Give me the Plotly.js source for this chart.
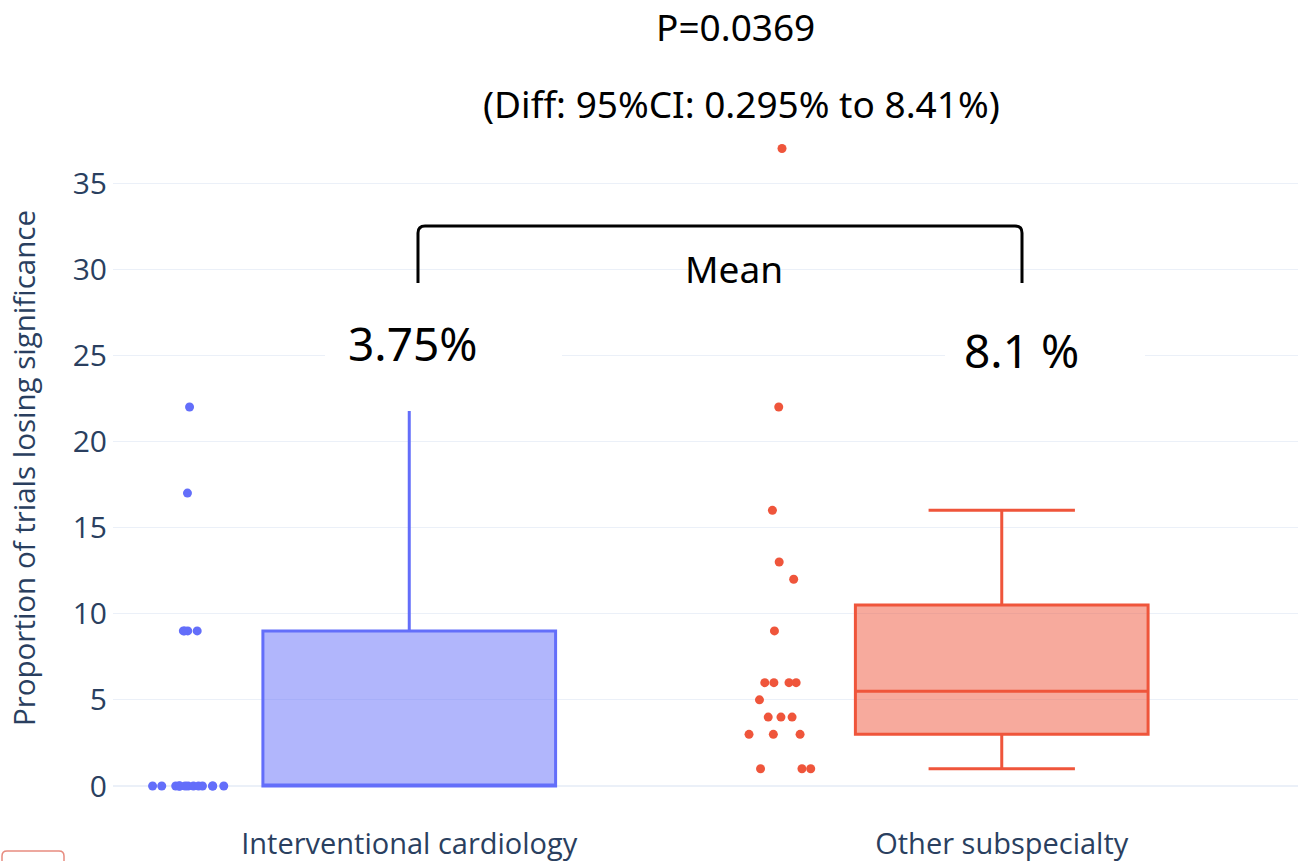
<!DOCTYPE html>
<html><head><meta charset="utf-8">
<script src="https://cdn.plot.ly/plotly-3.0.1.min.js"></script>
<style>html,body{margin:0;padding:0;background:#fff;}#chart{width:1298px;height:861px;}</style>
</head><body><div id="chart"></div>
<script>
// ---- data ----
const categories = ["Interventional cardiology", "Other subspecialty"];
const interventionalValues = [22, 17, 9, 9, 9, 9, 0, 0, 0, 0, 0, 0, 0, 0, 0, 0, 0, 0, 0, 0];
const otherValues = [37, 22, 16, 13, 12, 9, 6, 6, 6, 6, 5, 4, 4, 4, 3, 3, 3, 1, 1, 1];
const meanLabels = ["3.75%", "8.1 %"];
const pValueText = "P=0.0369";
const ciText = "(Diff: 95%CI: 0.295% to 8.41%)";
const bracketText = "Mean";
const yTitle = "Proportion of trials losing significance";
const yTickVals = [0, 5, 10, 15, 20, 25, 30, 35];

// ---- layout helpers (pixel -> paper) ----
const W = 1298, H = 861;
const M = {l: 113, r: 0, t: 130, b: 55};
const PW = W - M.l - M.r, PH = H - M.t - M.b;
const px = x => (x - M.l) / PW;
const py = y => (H - M.b - y) / PH;

const traces = [
  {
    type: "box", name: categories[0],
    x: interventionalValues.map(() => categories[0]), y: interventionalValues,
    boxpoints: "all", pointpos: -1.5, jitter: 0.3, width: 0.494,
    line: {color: "#636EFA", width: 3}, fillcolor: "rgba(99,110,250,0.5)",
    marker: {color: "#636EFA", size: 9}, showlegend: false
  },
  {
    type: "box", name: categories[1],
    x: otherValues.map(() => categories[1]), y: otherValues,
    boxpoints: "all", pointpos: -1.5, jitter: 0.3, width: 0.494,
    line: {color: "#EF553B", width: 3}, fillcolor: "rgba(239,85,59,0.5)",
    marker: {color: "#EF553B", size: 9}, showlegend: false
  }
];

function pathFromPx(cmds) {
  return cmds.map(c => c[0] + " " + c.slice(1).map((v, i) => (i % 2 === 0 ? px(v) : py(v)).toFixed(5)).join(",")).join(" ");
}
const bracketPath = pathFromPx([
  ["M", 418, 283], ["L", 418, 233], ["Q", 418, 226, 425, 226],
  ["L", 1015, 226], ["Q", 1022, 226, 1022, 233], ["L", 1022, 283]
]);

const shapes = [
  {type: "rect", xref: "paper", yref: "paper", layer: "above",
   x0: px(325), x1: px(562), y0: py(411), y1: py(300), fillcolor: "#ffffff", line: {width: 0}},
  {type: "rect", xref: "paper", yref: "paper", layer: "above",
   x0: px(945), x1: px(1145), y0: py(385), y1: py(320), fillcolor: "#ffffff", line: {width: 0}},
  {type: "path", xref: "paper", yref: "paper", layer: "above",
   path: bracketPath, line: {color: "#000000", width: 3}},
  {type: "path", xref: "paper", yref: "paper", layer: "above",
   path: pathFromPx([["M", 2, 880], ["L", 2, 856], ["Q", 2, 851, 7, 851], ["L", 59, 851], ["Q", 64, 851, 64, 856], ["L", 64, 880]]),
   line: {color: "rgba(225,110,95,0.8)", width: 1.5}}
];

const annFont = (s) => ({family: "Noto Sans, Open Sans, sans-serif", size: s, color: "#000000"});
const annotations = [
  {xref: "paper", yref: "paper", x: px(735), y: py(27), text: pValueText, showarrow: false, font: annFont(37), xanchor: "center", yanchor: "middle"},
  {xref: "paper", yref: "paper", x: px(741), y: py(103), text: ciText, showarrow: false, font: annFont(37), xanchor: "center", yanchor: "middle"},
  {xref: "paper", yref: "paper", x: px(734), y: py(268), text: bracketText, showarrow: false, font: annFont(37), xanchor: "center", yanchor: "middle"},
  {xref: "paper", yref: "paper", x: px(413), y: py(343), text: meanLabels[0], showarrow: false, font: annFont(46), xanchor: "center", yanchor: "middle"},
  {xref: "paper", yref: "paper", x: px(1021), y: py(350), text: meanLabels[1], showarrow: false, font: annFont(46), xanchor: "center", yanchor: "middle"}
];

const yMin = -(H - M.b - 786) / ((786 - 183) / 35);
const yMax = (786 - M.t) / ((786 - 183) / 35);

const layout = {
  width: W, height: H, margin: M,
  paper_bgcolor: "#ffffff", plot_bgcolor: "#ffffff",
  font: {family: "Open Sans, sans-serif", color: "#2a3f5f", size: 29},
  showlegend: false,
  xaxis: {type: "category", categoryarray: categories, range: [-0.5, 1.5],
          showgrid: false, zeroline: false, showline: false, ticks: "",
          ticklabelstandoff: 18,
          tickfont: {size: 29, color: "#2a3f5f"}},
  yaxis: {range: [yMin, yMax], tickvals: yTickVals, ticktext: yTickVals.map(String),
          showgrid: true, gridcolor: "#EBF0F8", gridwidth: 1,
          zeroline: true, zerolinecolor: "#EBF0F8", zerolinewidth: 2,
          showline: false, ticks: "", ticklabelstandoff: 5,
          tickfont: {size: 30, color: "#2a3f5f"},
          title: {text: yTitle, standoff: 28, font: {size: 29.5, color: "#2a3f5f"}}},
  shapes: shapes, annotations: annotations
};

Plotly.newPlot("chart", traces, layout, {displayModeBar: false, staticPlot: true});
</script>
</body></html>
